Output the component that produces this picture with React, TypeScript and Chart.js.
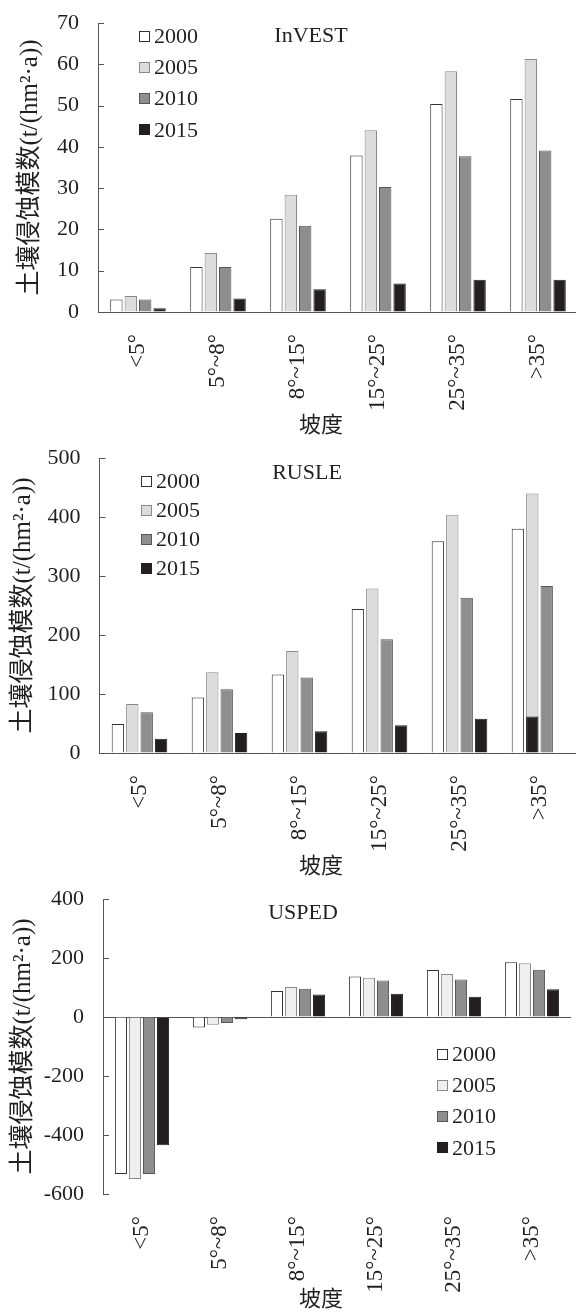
import React, { useEffect, useRef } from 'react';
import { Chart, registerables } from 'chart.js';

Chart.register(...registerables);

// ---------------- data ----------------
const categories = ['<5°', '5°~8°', '8°~15°', '15°~25°', '25°~35°', '>35°'];
const years = ['2000', '2005', '2010', '2015'];

const invest2000 = [3.0, 10.9, 22.6, 37.9, 50.4, 51.6];
const invest2005 = [3.9, 14.3, 28.4, 44.0, 58.3, 61.3];
const invest2010 = [3.0, 10.9, 20.9, 30.3, 37.7, 39.1];
const invest2015 = [0.9, 3.3, 5.5, 6.9, 7.8, 7.8];

const rusle2000 = [49, 94, 133, 244, 359, 380];
const rusle2005 = [83, 137, 173, 279, 404, 440];
const rusle2010 = [69, 108, 128, 193, 263, 283];
const rusle2015 = [24, 34, 37, 47, 58, null];
// in the source figure the >35° 2015 bar sits in the 2005 slot
const rusle2015Overlap = [null, null, null, null, null, 62];

const usped2000 = [-532, -36, 88, 137, 159, 186];
const usped2005 = [-549, -26, 102, 133, 146, 182];
const usped2010 = [-532, -20, 96, 124, 127, 160];
const usped2015 = [-435, -8, 76, 79, 69, 94];

const investTicks = [0, 10, 20, 30, 40, 50, 60, 70];
const rusleTicks = [0, 100, 200, 300, 400, 500];
const uspedTicks = [-600, -400, -200, 0, 200, 400];

const yTitle = '土壤侵蚀模数(t/(hm²·a))';
const xTitle = '坡度';

// ---------------- styles ----------------
const SERIF = "'Liberation Serif', 'Times New Roman', 'Noto Sans CJK SC', serif";
const CJK = "'Noto Sans CJK SC', sans-serif";
const TEXT = '#231f20';
const AXIS = '#555555';

const fillsA = ['#ffffff', '#dcdcdc', '#8e8e90', '#231f20'];
const fillsB = ['#ffffff', '#efefef', '#8e8e90', '#231f20'];
const borders = ['#333333', '#8a8a8a', '#555555', '#231f20'];

type Extra = { data: (number | null)[]; style: number; slot: number };

type PanelCfg = {
  name: string;
  series: (number | null)[][];
  extra?: Extra;
  ticks: number[];
  fills: string[];
  top: number;
  width: number;
  height: number;
  areaLeft: number;
  areaRight: number;
  areaTop: number;
  areaBottom: number;
  yTitlePad: number;
  legendX: number;
  legendY: number;
  legendGap: number;
  nameX: number;
  nameY: number;
  xTitleX: number;
  xTitleY: number;
};

const panels: PanelCfg[] = [
  {
    name: 'InVEST', series: [invest2000, invest2005, invest2010, invest2015], ticks: investTicks, fills: fillsA,
    top: 0, width: 600, height: 440, areaLeft: 98, areaRight: 578, areaTop: 23, areaBottom: 312,
    yTitlePad: 15, legendX: 139, legendY: 36, legendGap: 31.3, nameX: 311, nameY: 36, xTitleX: 321, xTitleY: 424,
  },
  {
    name: 'RUSLE', series: [rusle2000, rusle2005, rusle2010, rusle2015],
    extra: { data: rusle2015Overlap, style: 3, slot: 1 },
    ticks: rusleTicks, fills: fillsA,
    top: 440, width: 600, height: 440, areaLeft: 99.5, areaRight: 579.5, areaTop: 18, areaBottom: 313,
    yTitlePad: 8, legendX: 141, legendY: 41, legendGap: 29, nameX: 307, nameY: 33, xTitleX: 321, xTitleY: 425,
  },
  {
    name: 'USPED', series: [usped2000, usped2005, usped2010, usped2015], ticks: uspedTicks, fills: fillsB,
    top: 880, width: 600, height: 433, areaLeft: 103, areaRight: 571, areaTop: 19, areaBottom: 314,
    yTitlePad: 8, legendX: 437, legendY: 174, legendGap: 31.3, nameX: 303, nameY: 33, xTitleX: 321, xTitleY: 418,
  },
];

const decorPlugin = {
  id: 'decor',
  afterDraw(chart: any, _args: any, opts: any) {
    const { ctx, chartArea, scales } = chart;
    const y = scales.y;
    ctx.save();
    // inward tick marks on the y axis
    ctx.strokeStyle = AXIS;
    ctx.lineWidth = 1;
    y.ticks.forEach((t: any) => {
      const py = Math.round(y.getPixelForValue(t.value)) + 0.5;
      ctx.beginPath();
      ctx.moveTo(chartArea.left, py);
      ctx.lineTo(chartArea.left + 6, py);
      ctx.stroke();
    });
    // legend
    ctx.font = `22px ${SERIF}`;
    ctx.textBaseline = 'middle';
    ctx.textAlign = 'left';
    chart.data.datasets
      .filter((ds: any) => !ds.noLegend)
      .forEach((ds: any, i: number) => {
        const cy = opts.legendY + i * opts.legendGap;
        ctx.fillStyle = ds.backgroundColor;
        ctx.fillRect(opts.legendX, Math.round(cy - 5.5), 11, 11);
        ctx.strokeStyle = ds.borderColor;
        ctx.strokeRect(opts.legendX + 0.5, Math.round(cy - 5.5) + 0.5, 10, 10);
        ctx.fillStyle = TEXT;
        ctx.fillText(ds.label, opts.legendX + 15, cy + 1);
      });
    // model name
    ctx.fillStyle = TEXT;
    ctx.textAlign = 'center';
    ctx.fillText(opts.name, opts.nameX, opts.nameY);
    // x axis title
    ctx.font = `22px ${CJK}`;
    ctx.fillText(opts.xTitle, opts.xTitleX, opts.xTitleY);
    ctx.restore();
  },
};

function Panel({ cfg }: { cfg: PanelCfg }) {
  const ref = useRef<HTMLCanvasElement | null>(null);
  useEffect(() => {
    if (!ref.current) return;
    const t = cfg.ticks;
    const datasets: any[] = cfg.series.map((s, i) => ({
      label: years[i],
      data: s,
      stack: 's' + i,
      order: 2 * i,
      backgroundColor: cfg.fills[i],
      borderColor: borders[i],
      borderWidth: 1,
      categoryPercentage: 0.72,
      barPercentage: 0.86,
    }));
    if (cfg.extra) {
      const e = cfg.extra;
      datasets.push({
        label: years[e.style],
        data: e.data,
        stack: 's' + e.slot,
        order: 2 * e.slot - 1,
        noLegend: true,
        backgroundColor: cfg.fills[e.style],
        borderColor: borders[e.style],
        borderWidth: 1,
        categoryPercentage: 0.72,
        barPercentage: 0.86,
      });
    }
    const chart = new Chart(ref.current, {
      type: 'bar',
      data: { labels: categories, datasets },
      options: {
        responsive: false,
        animation: false,
        devicePixelRatio: 1,
        layout: {
          padding: { top: cfg.areaTop, right: cfg.width - cfg.areaRight, left: 0, bottom: 0 },
        },
        plugins: {
          legend: { display: false },
          tooltip: { enabled: false },
          decor: {
            name: cfg.name, legendX: cfg.legendX, legendY: cfg.legendY, legendGap: cfg.legendGap,
            nameX: cfg.nameX, nameY: cfg.nameY, xTitle, xTitleX: cfg.xTitleX, xTitleY: cfg.xTitleY,
          },
        } as any,
        scales: {
          x: {
            type: 'category',
            grid: { display: false },
            border: { display: false },
            ticks: {
              autoSkip: false, maxRotation: 90, minRotation: 90, padding: 14,
              color: TEXT, font: { family: SERIF, size: 23 },
            },
            afterFit: (s: any) => {
              s.height = cfg.height - cfg.areaBottom;
              s.paddingLeft = 0;
              s.paddingRight = 0;
            },
          },
          y: {
            type: 'linear',
            stacked: false,
            min: t[0],
            max: t[t.length - 1],
            ticks: { stepSize: t[1] - t[0], padding: 19, color: TEXT, font: { family: SERIF, size: 22 } },
            grid: {
              display: true, drawTicks: false, drawOnChartArea: true, lineWidth: 1,
              color: (c: any) => (c.tick && c.tick.value === 0 ? AXIS : 'rgba(0,0,0,0)'),
            },
            border: { display: true, color: AXIS, width: 1 },
            title: {
              display: true, text: yTitle, color: TEXT,
              font: { family: SERIF, size: 25 }, padding: { top: cfg.yTitlePad, bottom: 0 },
            },
            afterFit: (s: any) => {
              s.width = cfg.areaLeft;
              s.paddingTop = 0;
              s.paddingBottom = 0;
            },
          },
        },
      } as any,
      plugins: [decorPlugin],
    });
    return () => chart.destroy();
  }, [cfg]);
  return (
    <canvas
      ref={ref}
      width={cfg.width}
      height={cfg.height}
      style={{ position: 'absolute', left: 0, top: cfg.top, width: cfg.width, height: cfg.height }}
    />
  );
}

export default function App() {
  return (
    <div
      style={{
        position: 'absolute', left: 0, top: 0, width: 576, height: 1313,
        overflow: 'hidden', background: '#ffffff',
      }}
    >
      {panels.map((p) => (
        <Panel key={p.name} cfg={p} />
      ))}
    </div>
  );
}
